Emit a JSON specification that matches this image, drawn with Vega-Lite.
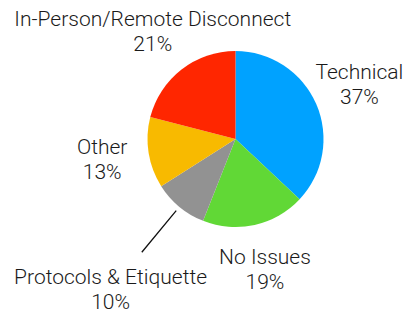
{
  "$schema": "https://vega.github.io/schema/vega-lite/v6.json",
  "width": 337,
  "height": 278,
  "autosize": {"type": "none"},
  "padding": {"left": 67, "top": 0, "right": 0, "bottom": 36},
  "background": "white",
  "config": {"view": {"stroke": null}},
  "data": {
    "values": [
      {"cat": "Technical", "value": 37, "order": 1, "label": "Technical\n37%"},
      {"cat": "No Issues", "value": 19, "order": 2, "label": "No Issues\n19%"},
      {"cat": "Protocols & Etiquette", "value": 10, "order": 3, "label": "Protocols & Etiquette\n10%"},
      {"cat": "Other", "value": 13, "order": 4, "label": "Other\n13%"},
      {"cat": "In-Person/Remote Disconnect", "value": 21, "order": 5, "label": "In-Person/Remote Disconnect\n21%"}
    ]
  },
  "encoding": {
    "theta": {"field": "value", "type": "quantitative", "stack": true},
    "order": {"field": "order", "type": "quantitative"}
  },
  "layer": [
    {
      "mark": {"type": "arc", "outerRadius": 88},
      "encoding": {
        "color": {
          "field": "cat",
          "type": "nominal",
          "legend": null,
          "scale": {
            "domain": ["Technical", "No Issues", "Protocols & Etiquette", "Other", "In-Person/Remote Disconnect"],
            "range": ["#00A2FF", "#61D836", "#929292", "#F8BA00", "#FF2600"]
          }
        }
      }
    },
    {
      "mark": {"type": "arc", "radius": 147, "radius2": 93, "padAngle": 1.2, "fill": null, "stroke": "#111", "strokeWidth": 1.3},
      "encoding": {
        "strokeOpacity": {"condition": {"test": "datum.cat === 'Protocols & Etiquette'", "value": 1}, "value": 0}
      }
    },
    {
      "mark": {"type": "text", "radius": 135, "dy": -12.5, "fontSize": 21, "font": "Roboto", "fontWeight": 300, "lineBreak": "\n", "lineHeight": 25, "align": "center", "baseline": "middle", "color": "#1a1a1a"},
      "encoding": {
        "text": {"condition": {"test": "datum.cat !== 'Protocols & Etiquette'", "field": "label"}, "value": ""}
      }
    },
    {
      "mark": {"type": "text", "radius": 196, "dy": -12.5, "fontSize": 21, "font": "Roboto", "fontWeight": 300, "lineBreak": "\n", "lineHeight": 25, "align": "center", "baseline": "middle", "color": "#1a1a1a"},
      "encoding": {
        "text": {"condition": {"test": "datum.cat === 'Protocols & Etiquette'", "field": "label"}, "value": ""}
      }
    }
  ]
}
